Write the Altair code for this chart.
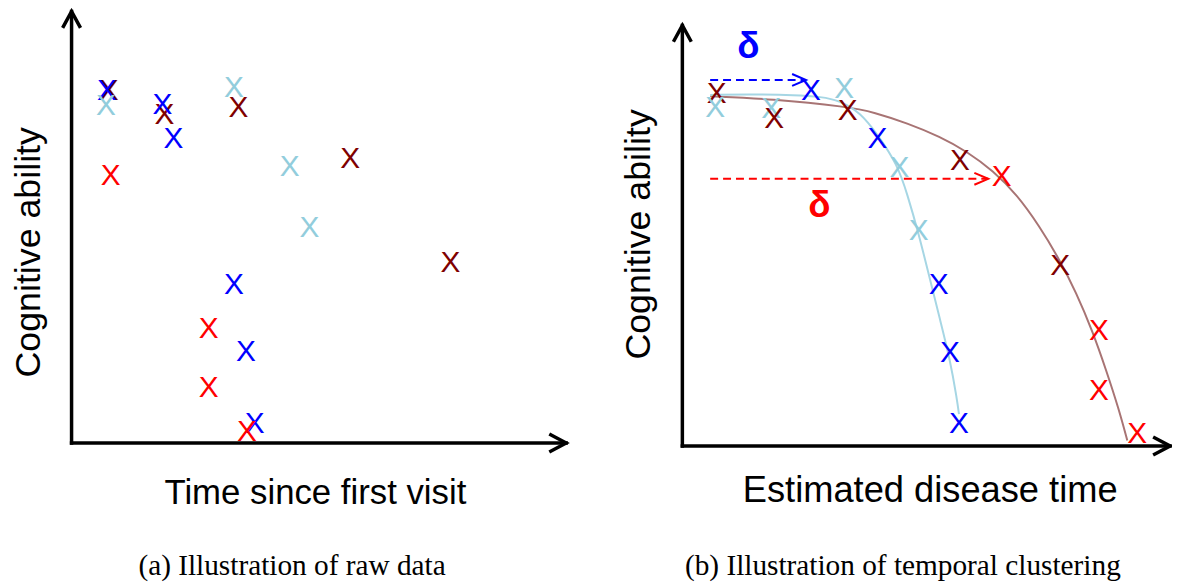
import altair as alt
import pandas as pd

# ---------------- values ----------------
GROUPS = ["blue", "light blue", "dark red", "red"]

# (a) raw data: time since first visit vs cognitive ability
A_GROUP = ["dark red", "blue", "light blue", "dark red", "blue", "blue", "red",
           "light blue", "dark red", "light blue", "dark red", "light blue",
           "dark red", "blue", "red", "blue", "red", "blue", "red"]
A_TIME = [7.5, 7.1, 6.9, 18.7, 18.3, 20.5, 7.9, 32.7, 33.6, 43.9, 56.1, 47.9,
          76.3, 32.7, 27.6, 35.1, 27.6, 36.9, 35.3]
A_ABILITY = [71.2, 71.1, 68.1, 66.3, 68.3, 61.6, 54.1, 71.8, 67.7, 55.9, 57.5,
             43.6, 36.5, 32.1, 23.3, 18.6, 11.3, 4.1, 2.5]

# (b) temporal clustering: estimated disease time vs cognitive ability
B_GROUP = ["dark red", "light blue", "light blue", "dark red", "blue",
           "light blue", "dark red", "blue", "light blue", "dark red", "red",
           "light blue", "blue", "dark red", "blue", "red", "red", "blue", "red"]
B_TIME = [6.9, 6.6, 17.9, 18.5, 25.9, 32.6, 33.3, 39.3, 43.7, 55.9, 64.3, 47.6,
          51.6, 76.1, 53.9, 83.9, 83.9, 55.7, 91.6]
B_ABILITY = [71.1, 68.4, 68.2, 66.1, 71.7, 72.1, 67.7, 62.2, 56.2, 57.7, 54.4,
             43.5, 32.7, 36.5, 19.1, 23.4, 11.4, 4.7, 2.7]

# fitted trajectories in panel (b)
FAST_CURVE_T = [5.6, 15.0, 22.6, 28.0, 31.6, 35.9, 39.3, 43.3, 45.3, 47.6,
                49.9, 51.9, 53.9, 55.3, 55.7]
FAST_CURVE_A = [70.7, 70.8, 70.7, 70.3, 69.6, 67.1, 62.7, 56.7, 50.7, 42.7,
                33.4, 25.4, 17.4, 9.4, 6.4]
SLOW_CURVE_T = [5.6, 17.9, 33.4, 38.6, 45.3, 51.9, 57.3, 62.6, 67.3, 71.9,
                75.9, 79.3, 82.6, 85.3, 87.9, 89.6]
SLOW_CURVE_A = [70.4, 69.9, 68.3, 67.2, 65.0, 62.3, 59.3, 55.4, 50.7, 44.3,
                37.6, 30.9, 23.1, 15.4, 7.4, 1.1]

# time shifts (delta) in panel (b)
SHIFT_GROUP = ["blue", "red"]
SHIFT_START = [5.6, 5.6]
SHIFT_END = [24.9, 61.6]
SHIFT_LEVEL = [73.7, 53.8]
DELTA_LABEL = ["δ", "δ"]
DELTA_T = [13.3, 27.6]
DELTA_A = [80.4, 48.4]

# axis arrow lengths (panel units)
AXIS_T_END = {"a": 99.6, "b": 98.2}
AXIS_A_END = {"a": 86.9, "b": 84.7}

Y_TITLE = "Cognitive ability"
X_TITLE = {"a": "Time since first visit", "b": "Estimated disease time"}
CAPTION = {"a": "(a) Illustration of raw data",
           "b": "(b) Illustration of temporal clustering"}

# ---------------- layout / style ----------------
W, H = 1172, 577
DOMAINS = {
    "a": ([-12.8, 221.6], [-28.2, 87.2]),
    "b": ([-135.8, 98.6], [-27.6, 87.8]),
}
Y_TITLE_POS = {"a": (-8.6, 38.4), "b": (-8.8, 42.6)}
X_TITLE_POS = {"a": (49.1, -12.2), "b": (49.9, -11.3)}
X_TITLE_SIZE = {"a": 35, "b": 36.5}
CAPTION_POS = {"a": (44.4, -26.6), "b": (44.4, -26.0)}
MARKER_COLORS = ["#0000FF", "#92CDDC", "#7F0000", "#FF0000"]
FAST_COLOR = "#A6D6E4"
SLOW_COLOR = "#A87474"

color_enc = alt.Color("g:N", scale=alt.Scale(domain=GROUPS, range=MARKER_COLORS),
                      legend=None)


def xy(panel):
    xd, yd = DOMAINS[panel]
    return dict(
        x=alt.X("t:Q", scale=alt.Scale(domain=xd, nice=False, zero=False), axis=None),
        y=alt.Y("a:Q", scale=alt.Scale(domain=yd, nice=False, zero=False), axis=None),
    )


def chevron_rows(tips):
    rows = []
    for i, (t, a, d, dl, dw, g) in enumerate(tips):
        if d == "up":
            pts = [(t - dw, a - dl), (t, a), (t + dw, a - dl)]
        else:
            pts = [(t - dl, a + dw), (t, a), (t - dl, a - dw)]
        for k, (pt, pa) in enumerate(pts):
            rows.append({"t": pt, "a": pa, "id": i, "k": k, "g": g})
    return pd.DataFrame(rows)


layers = []
for panel in ["a", "b"]:
    enc = xy(panel)
    # axes
    axes_df = pd.DataFrame({"t": [0, 0], "a": [0, 0],
                            "t2": [0, AXIS_T_END[panel]],
                            "a2": [AXIS_A_END[panel], 0]})
    layers.append(alt.Chart(axes_df).mark_rule(color="black", strokeWidth=3.5,
                                               strokeCap="square").encode(
        **enc, x2="t2:Q", y2="a2:Q"))
    heads = chevron_rows([
        (0, AXIS_A_END[panel], "up", 3.3, 1.8, "k"),
        (AXIS_T_END[panel], 0, "right", 3.4, 1.8, "k"),
    ])
    layers.append(alt.Chart(heads).mark_line(color="black", strokeWidth=3.5,
                                             strokeJoin="miter").encode(
        **enc, detail="id:N", order="k:Q"))

    if panel == "b":
        fast = pd.DataFrame({"t": FAST_CURVE_T, "a": FAST_CURVE_A})
        slow = pd.DataFrame({"t": SLOW_CURVE_T, "a": SLOW_CURVE_A})
        layers.append(alt.Chart(slow).mark_line(color=SLOW_COLOR, strokeWidth=2,
                                                interpolate="basis").encode(
            **enc, order="t:Q"))
        layers.append(alt.Chart(fast).mark_line(color=FAST_COLOR, strokeWidth=2,
                                                interpolate="basis").encode(
            **enc, order="t:Q"))
        shifts = pd.DataFrame({"t": SHIFT_START, "t2": SHIFT_END,
                               "a": SHIFT_LEVEL, "g": SHIFT_GROUP})
        layers.append(alt.Chart(shifts).mark_rule(strokeWidth=2,
                                                  strokeDash=[8, 5]).encode(
            **enc, x2="t2:Q", color=color_enc))
        sheads = chevron_rows([(e, l, "right", 2.8, 1.2, g) for e, l, g in
                               zip(SHIFT_END, SHIFT_LEVEL, SHIFT_GROUP)])
        layers.append(alt.Chart(sheads).mark_line(strokeWidth=2).encode(
            **enc, detail="id:N", order="k:Q", color=color_enc))
        deltas = pd.DataFrame({"t": DELTA_T, "a": DELTA_A, "label": DELTA_LABEL,
                               "g": SHIFT_GROUP})
        layers.append(alt.Chart(deltas).mark_text(
            font="Liberation Sans", fontSize=37, fontWeight="bold",
            baseline="middle", align="center").encode(
            **enc, text="label:N", color=color_enc))

    if panel == "a":
        pts = pd.DataFrame({"t": A_TIME, "a": A_ABILITY, "g": A_GROUP})
    else:
        pts = pd.DataFrame({"t": B_TIME, "a": B_ABILITY, "g": B_GROUP})
    layers.append(alt.Chart(pts).mark_text(
        text="X", font="Liberation Sans", fontSize=30, baseline="middle",
        align="center", dy=1.5).encode(**enc, color=color_enc))

    yt = pd.DataFrame({"t": [Y_TITLE_POS[panel][0]], "a": [Y_TITLE_POS[panel][1]],
                       "label": [Y_TITLE]})
    layers.append(alt.Chart(yt).mark_text(
        font="Liberation Sans", fontSize=36, angle=270, baseline="middle",
        align="center", color="black").encode(**enc, text="label:N"))
    xt = pd.DataFrame({"t": [X_TITLE_POS[panel][0]], "a": [X_TITLE_POS[panel][1]],
                       "label": [X_TITLE[panel]]})
    layers.append(alt.Chart(xt).mark_text(
        font="Liberation Sans", fontSize=X_TITLE_SIZE[panel], baseline="alphabetic",
        align="center", color="black").encode(**enc, text="label:N"))
    cp = pd.DataFrame({"t": [CAPTION_POS[panel][0]], "a": [CAPTION_POS[panel][1]],
                       "label": [CAPTION[panel]]})
    layers.append(alt.Chart(cp).mark_text(
        font="Liberation Serif", fontSize=29.5, baseline="alphabetic",
        align="center", color="black").encode(**enc, text="label:N"))

chart = alt.layer(*layers).resolve_scale(x="independent", y="independent").properties(
    width=W, height=H, padding=0,
    autosize=alt.AutoSizeParams(type="none"),
).configure_view(stroke=None)

chart.save("out.html", embed_options={"renderer": "svg", "actions": False})
